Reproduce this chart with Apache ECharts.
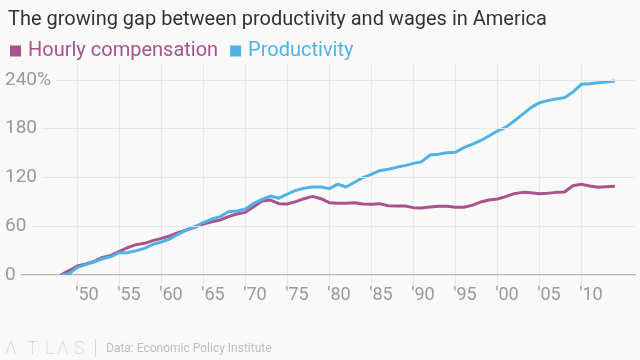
<!DOCTYPE html>
<html><head><meta charset="utf-8">
<script src="https://cdn.jsdelivr.net/npm/echarts@6/dist/echarts.min.js"></script>
<style>html,body{margin:0;padding:0;background:#f9f9f9}#c{width:640px;height:360px}</style>
</head><body><div id="c"></div>
<script>
const years = [];
for (let y = 1948; y <= 2014; y++) years.push(y);
const compensation = [0,5.3,11.1,13.5,16.8,21.7,24.2,29.1,33.6,37.3,39.0,42.3,45.1,48.0,52.1,55.4,59.1,62.7,65.6,67.7,71.8,75.1,77.1,84.1,91.1,92.3,87.8,87.4,90.3,93.9,96.8,93.9,89.0,88.2,88.2,89.0,87.4,87.0,87.8,85.3,84.9,84.9,82.9,82.5,83.7,84.5,84.5,83.3,83.3,85.7,89.8,92.3,93.5,96.4,100.1,101.7,101.3,100.1,100.5,101.7,102.2,109.9,111.6,109.5,107.9,108.7,109.1];
const productivity = [0,1.2,9.4,12.7,16.0,20.1,22.6,27.5,27.5,29.9,32.8,37.7,40.6,44.3,50.1,55.4,59.7,64.6,68.9,71.8,77.9,78.8,81.2,88.2,93.1,97.2,94.5,99.5,104.2,106.7,108.3,108.3,106.3,111.8,108.3,114.1,119.8,123.9,128.4,130.1,132.5,134.6,137.4,139.5,147.7,148.5,150.6,151.0,156.7,160.8,165.3,171.1,177.2,181.7,189.5,197.7,206.0,212.1,214.6,216.6,218.3,225.2,234.7,235.5,236.7,237.5,238.8];
const xTicks = [1950,1955,1960,1965,1970,1975,1980,1985,1990,1995,2000,2005,2010];
const yTicks = [0,60,120,180,240];
const seriesNames = ['Hourly compensation','Productivity'];
const colors = ['#a8538b','#51b2e5'];
const logoLetters = ['Λ','T','L','Λ','S'];
const logoX = [5,27,45,57,74];

const FONT = 'Roboto';
const chart = echarts.init(document.getElementById('c'));
chart.setOption({
  backgroundColor: '#f9f9f9',
  animation: false,
  title: {
    text: 'The growing gap between productivity and wages in America',
    left: 3, top: 5,
    textStyle: {fontFamily: FONT, fontSize: 20, fontWeight: 'normal', color: '#333'}
  },
  legend: {
    left: 5, top: 36, icon: 'rect', itemWidth: 11, itemHeight: 11, itemGap: 12,
    data: seriesNames.map((n,i)=>({name:n, textStyle:{color:colors[i]}})),
    textStyle: {fontFamily: FONT, fontSize: 20, padding:[0,0,0,2]}
  },
  grid: {left: 5, right: 5, top: 64, bottom: 85},
  xAxis: {
    type: 'value', min: 1941.393, max: 2016.393,
    axisLine: {show: true, lineStyle: {color: '#a0a0a0', width: 1.5}},
    axisTick: {show: true, customValues: xTicks, length: 17, lineStyle: {color: '#e8e8e8'}},
    splitLine: {show: true, lineStyle: {color: '#e8e8e8', width: 1}},
    axisLabel: {customValues: xTicks, align: 'left', margin: 11, color: '#9a9a9a', fontFamily: FONT, fontSize: 18,
      padding: [0,0,0,-2],
      formatter: v => "'" + String(v).slice(2)}
  },
  yAxis: {
    type: 'value', min: 0, max: 259.69, z: 5,
    axisLine: {show: false},
    axisTick: {show: false, customValues: yTicks},
    splitLine: {show: true, lineStyle: {color: '#e8e8e8', width: 1}},
    axisLabel: {customValues: yTicks, inside: true, margin: 0, color: '#9a9a9a', fontFamily: FONT, fontSize: 19,
      backgroundColor: '#f9f9f9', padding: [0,5,0,0],
      formatter: v => v === 240 ? '240%' : String(v)}
  },
  series: seriesNames.map((n,i)=>({
    name: n, type: 'line', showSymbol: false, symbol: 'none',
    data: years.map((y,j)=>[y, i===0 ? compensation[j] : productivity[j]]),
    lineStyle: {color: colors[i], width: 3}, itemStyle: {color: colors[i]}
  })),
  graphic: logoLetters.map((t,i)=>({type:'text', left: logoX[i], top: 340,
      style:{text:t, fontFamily: FONT, fontSize: 18, fill:'#c8c8c8', fontWeight: 100}})).concat([
    {type:'line', shape:{x1:95.5,y1:339,x2:95.5,y2:357}, style:{stroke:'#d8d8d8', lineWidth:1}},
    {type:'text', left: 106, top: 343, style:{text:'Data: Economic Policy Institute', fontFamily: FONT, fontSize: 12, fill:'#bdbdbd'}}
  ])
});
</script></body></html>
